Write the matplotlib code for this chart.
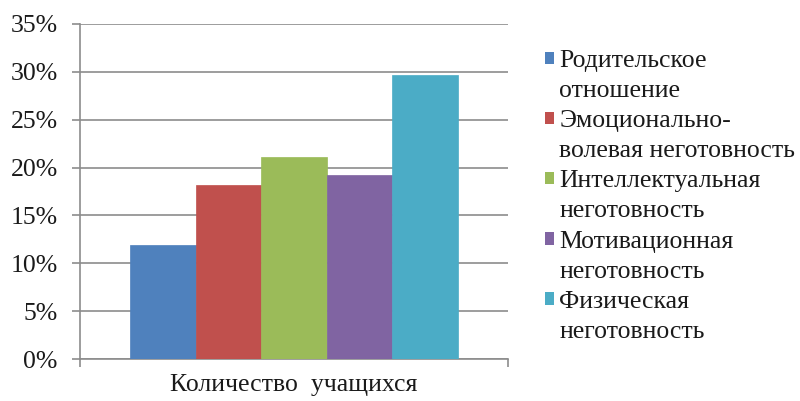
import matplotlib
matplotlib.use("Agg")
import matplotlib.pyplot as plt
from matplotlib.patches import Patch

categories = ["Родительское\nотношение", "Эмоционально-\nволевая неготовность",
              "Интеллектуальная\nнеготовность", "Мотивационная\nнеготовность",
              "Физическая\nнеготовность"]
values = [11.9, 18.2, 21.1, 19.2, 29.7]
colors = ["#4F81BD", "#C0504D", "#9BBB59", "#8064A2", "#4BACC6"]
group_label = "Количество  учащихся"
yticks = [0, 5, 10, 15, 20, 25, 30, 35]

plt.rcParams['font.family'] = ['Liberation Serif', 'DejaVu Serif']
FS = 18.5

fig = plt.figure(figsize=(8, 4.01), dpi=100)
ax = fig.add_axes([80/800, 1-359/401, (508-80)/800, (359-24)/401])

grid_c = "#8C8C8C"
for i, (v, c) in enumerate(zip(values, colors)):
    ax.bar(i, v, width=1.0, color=c, edgecolor=c, linewidth=0.5, zorder=3)

ax.set_ylim(0, 35)
ax.set_xlim(-1.265, 5.265)
ax.set_yticks(yticks)
ax.set_yticklabels([f"{t}%" for t in yticks], fontsize=FS, color="#1a1a1a")
ax.yaxis.grid(True, color=grid_c, linewidth=1.2, zorder=0)
ax.tick_params(axis='y', length=6, width=1.2, color=grid_c, pad=10)

ax.set_xticks([-1.265, 5.265])
ax.set_xticklabels(["", ""])
ax.tick_params(axis='x', which='major', length=6, width=1.2, color=grid_c)
ax.set_xticks([2], minor=True)
ax.set_xticklabels([group_label], minor=True, fontsize=FS, color="#1a1a1a")
ax.tick_params(axis='x', which='minor', length=0, pad=11)

for s in ["top", "right"]:
    ax.spines[s].set_visible(False)
for s in ["left", "bottom"]:
    ax.spines[s].set_color(grid_c)
    ax.spines[s].set_linewidth(1.2)

handles, labels = [], []
for cat, c in zip(categories, colors):
    l1, l2 = cat.split("\n")
    handles.append(Patch(facecolor=c, edgecolor='none'))
    labels.append(l1)
    handles.append(Patch(facecolor='none', edgecolor='none'))
    labels.append(l2)

fig.legend(handles, labels, loc='upper left', bbox_to_anchor=(545/800, 1-50/401),
           frameon=False, fontsize=FS, handlelength=0.36, handleheight=0.36,
           handletextpad=0.2, labelspacing=0.315, borderpad=0, borderaxespad=0,
           labelcolor="#1a1a1a")

fig.savefig("out.png", dpi=100)
